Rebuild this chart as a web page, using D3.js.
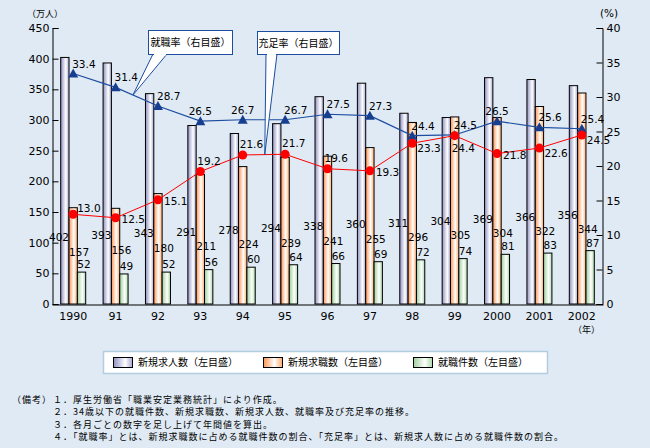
<!DOCTYPE html>
<html><head><meta charset="utf-8">
<script src="https://cdn.jsdelivr.net/npm/d3@7"></script>
<style>
html,body{margin:0;padding:0;background:#dfeaf4;}
svg{display:block;}
text{font-family:"DejaVu Sans",sans-serif;fill:#000;}
.jp{font-family:"Noto Sans CJK JP",sans-serif;}
</style></head>
<body>
<svg id="c" width="650" height="448"></svg>
<script>
const years = ["1990","91","92","93","94","95","96","97","98","99","2000","2001","2002"];
const newOpenings = [402,393,343,291,278,294,338,360,311,304,369,366,356];   // 新規求人数
const newApplicants = [157,156,180,211,224,239,241,255,296,305,304,322,344]; // 新規求職数
const placements = [52,49,52,56,60,64,66,69,72,74,81,83,87];                // 就職件数
const placementRate = [33.4,31.4,28.7,26.5,26.7,26.7,27.5,27.3,24.4,24.5,26.5,25.6,25.4]; // 就職率
const fillRate = [13.0,12.5,15.1,19.2,21.6,21.7,19.6,19.3,23.3,24.4,21.8,22.6,24.5];      // 充足率
const leftTicks = [0,50,100,150,200,250,300,350,400,450];
const rightTicks = [0,5,10,15,20,25,30,35,40];
const seriesNames = ["新規求人数（左目盛）","新規求職数（左目盛）","就職件数（左目盛）"];
const notes = [
  "１．厚生労働省「職業安定業務統計」により作成。",
  "２．34歳以下の就職件数、新規求職数、新規求人数、就職率及び充足率の推移。",
  "３．各月ごとの数字を足し上げて年間値を算出。",
  "４．「就職率」とは、新規求職数に占める就職件数の割合、「充足率」とは、新規求人数に占める就職件数の割合。"
];

const svg = d3.select("#c");
const L = 52, R = 603, T = 28, B = 304;
const x = d3.scaleBand().domain(years).range([L, R]);
const sub = d3.scaleBand().domain([0,1,2]).range([-12.5, 12.5]);
const yL = d3.scaleLinear().domain([0,450]).range([B, T]);
const yR = d3.scaleLinear().domain([0,40]).range([B, T]);
const cx = d => x(d) + x.bandwidth()/2;

// gradients
const defs = svg.append("defs");
const grads = [
  ["gB", [["0%","#8e90c2"],["62%","#ffffff"],["100%","#a4a6cf"]]],
  ["gO", [["0%","#ff9450"],["58%","#ffffff"],["100%","#ffa868"]]],
  ["gG", [["0%","#9cd09c"],["60%","#ffffff"],["100%","#a8d8a8"]]]
];
grads.forEach(([id, stops]) => {
  const g = defs.append("linearGradient").attr("id", id).attr("x1","0%").attr("x2","100%").attr("y1","0%").attr("y2","0%");
  stops.forEach(s => g.append("stop").attr("offset", s[0]).attr("stop-color", s[1]));
});
const fills = ["url(#gB)","url(#gO)","url(#gG)"];
const series = [newOpenings, newApplicants, placements];

// bars
series.forEach((vals, si) => {
  svg.append("g").selectAll("rect").data(vals).join("rect")
    .attr("x", (d,i) => cx(years[i]) + sub(si))
    .attr("y", d => yL(d))
    .attr("width", sub.bandwidth())
    .attr("height", d => B - yL(d))
    .attr("fill", fills[si])
    .attr("stroke", "#000").attr("stroke-width", 1);
});

// axes
const axL = svg.append("g").attr("transform", `translate(${L+0.5},0)`)
  .call(d3.axisRight(yL).tickValues(leftTicks).tickSize(6).tickFormat(d3.format("d")));
axL.selectAll("text").attr("x", -3).attr("text-anchor","end").attr("font-size","11px").attr("font-family","DejaVu Sans");
const axR = svg.append("g").attr("transform", `translate(${R-0.5},0)`)
  .call(d3.axisLeft(yR).tickValues(rightTicks).tickSize(6).tickFormat(d3.format("d")));
axR.selectAll("text").attr("x", 4).attr("text-anchor","start").attr("font-size","11px").attr("font-family","DejaVu Sans");
const axB = svg.append("g").attr("transform", `translate(0,${B+0.5})`)
  .call(d3.axisBottom(x).tickSize(0).tickPadding(8));
axB.selectAll("text").attr("font-size","11px").attr("font-family","DejaVu Sans");
svg.selectAll(".domain").attr("stroke","#000");
axL.selectAll("line").attr("stroke","#000");
axR.selectAll("line").attr("stroke","#000");

// bar labels
svg.append("g").selectAll("text").data(newOpenings).join("text")
  .attr("x", (d,i) => cx(years[i]) + sub(0) + sub.bandwidth())
  .attr("y", (d,i) => 241 - 1.8*i)
  .attr("text-anchor","end").attr("font-size","10.5px").text(d => d);
svg.append("g").selectAll("text").data(newApplicants).join("text")
  .attr("x", (d,i) => cx(years[i]) + sub(1))
  .attr("y", (d,i) => 256 - 1.9*i)
  .attr("text-anchor","start").attr("font-size","10.5px").text(d => d);
svg.append("g").selectAll("text").data(placements).join("text")
  .attr("x", (d,i) => cx(years[i]) + sub(2))
  .attr("y", d => yL(d) - 4)
  .attr("text-anchor","start").attr("font-size","10.5px").text(d => d);

// lines
const lineB = d3.line().x((d,i) => cx(years[i])).y(d => yR(d));
svg.append("path").datum(placementRate).attr("d", lineB).attr("fill","none").attr("stroke","#1c4da0").attr("stroke-width",1.2);
svg.append("path").datum(fillRate).attr("d", lineB).attr("fill","none").attr("stroke","#ff0000").attr("stroke-width",1);

svg.append("g").selectAll("path").data(placementRate).join("path")
  .attr("transform", (d,i) => `translate(${cx(years[i])},${yR(d)})`)
  .attr("d", "M0,-5L5,4L-5,4Z").attr("fill","#173f91");
svg.append("g").selectAll("circle").data(fillRate).join("circle")
  .attr("cx", (d,i) => cx(years[i])).attr("cy", d => yR(d)).attr("r", 4.5).attr("fill","#ff0000");

// line labels
const blueMid = [3,4,10];
svg.append("g").selectAll("text").data(placementRate).join("text")
  .attr("x", (d,i) => cx(years[i]) + (blueMid.includes(i) ? 0 : -1))
  .attr("y", d => yR(d) - 6)
  .attr("text-anchor", (d,i) => blueMid.includes(i) ? "middle" : "start")
  .attr("font-size","10.5px").text(d => d.toFixed(1));
const redPos = ["ru","r","r","a","a","a","a","r","rd","b","r","rd","rd"];
const off = {ru:[4,-2], r:[6,5], rd:[5,9], a:[-3,-7], b:[-3,16]};
svg.append("g").selectAll("text").data(fillRate).join("text")
  .attr("x", (d,i) => cx(years[i]) + off[redPos[i]][0])
  .attr("y", (d,i) => yR(d) + off[redPos[i]][1])
  .attr("text-anchor","start").attr("font-size","10.5px").text(d => d.toFixed(1));

// callouts
function callout(label, bx, by, bw, bh, p1, p2, tip) {
  const g = svg.append("g");
  g.append("path").attr("d", `M${p1},${by+bh}L${tip[0]},${tip[1]}L${p2},${by+bh}`)
    .attr("fill","#fff").attr("stroke","#1c4da0").attr("stroke-width",1);
  g.append("rect").attr("x", bx+0.5).attr("y", by+0.5).attr("width", bw).attr("height", bh)
    .attr("fill","#fff").attr("stroke","#1c4da0").attr("stroke-width",1);
  g.append("path").attr("d", `M${p1+1},${by+bh+0.5}L${p2-1},${by+bh+0.5}`).attr("stroke","#fff").attr("stroke-width",2);
  g.append("text").attr("class","jp").attr("x", bx + bw/2 + 0.5).attr("y", by + bh/2 + 4)
    .attr("text-anchor","middle").attr("font-size","10px").text(label);
}
const tip1x = cx(years[1]) + 0.41*x.bandwidth();
const tip1y = yR(placementRate[1] + 0.41*(placementRate[2]-placementRate[1]));
callout("就職率（右目盛）", 148, 30, 84, 24, 153, 167, [tip1x, tip1y]);
const tip2x = cx(years[4]) + 0.52*x.bandwidth();
const tip2y = yR(fillRate[4] + 0.52*(fillRate[5]-fillRate[4]));
callout("充足率（右目盛）", 257, 31, 82, 23, 266, 277, [tip2x, tip2y]);

// unit labels
svg.append("text").attr("class","jp").attr("x", 27).attr("y", 17).attr("font-size","9px").text("（万人）");
svg.append("text").attr("x", 600).attr("y", 17).attr("font-size","10.5px").text("(%)");
svg.append("text").attr("class","jp").attr("x", 573).attr("y", 333).attr("font-size","9px").text("（年）");

// legend
svg.append("rect").attr("x",103.5).attr("y",351.5).attr("width",444).attr("height",22)
  .attr("fill","#fff").attr("stroke","#b3cde0").attr("stroke-width",1.5);
const legX = [113, 263, 413];
seriesNames.forEach((n, i) => {
  svg.append("rect").attr("x", legX[i]+0.5).attr("y", 357.5).attr("width", 19).attr("height", 10)
    .attr("fill", fills[i]).attr("stroke","#000");
  svg.append("text").attr("class","jp").attr("x", legX[i]+25).attr("y", 366).attr("font-size","10px").text(n);
});

// notes
const noteY0 = 403, noteStep = 12.3;
svg.append("text").attr("class","jp").attr("x", 12).attr("y", noteY0).attr("font-size","9px").attr("letter-spacing","1px").text("（備考）");
notes.forEach((t, i) => {
  svg.append("text").attr("class","jp").attr("x", 53).attr("y", noteY0 + i*noteStep)
    .attr("font-size","9px").attr("letter-spacing","1px").text(t);
});
</script>
</body></html>
